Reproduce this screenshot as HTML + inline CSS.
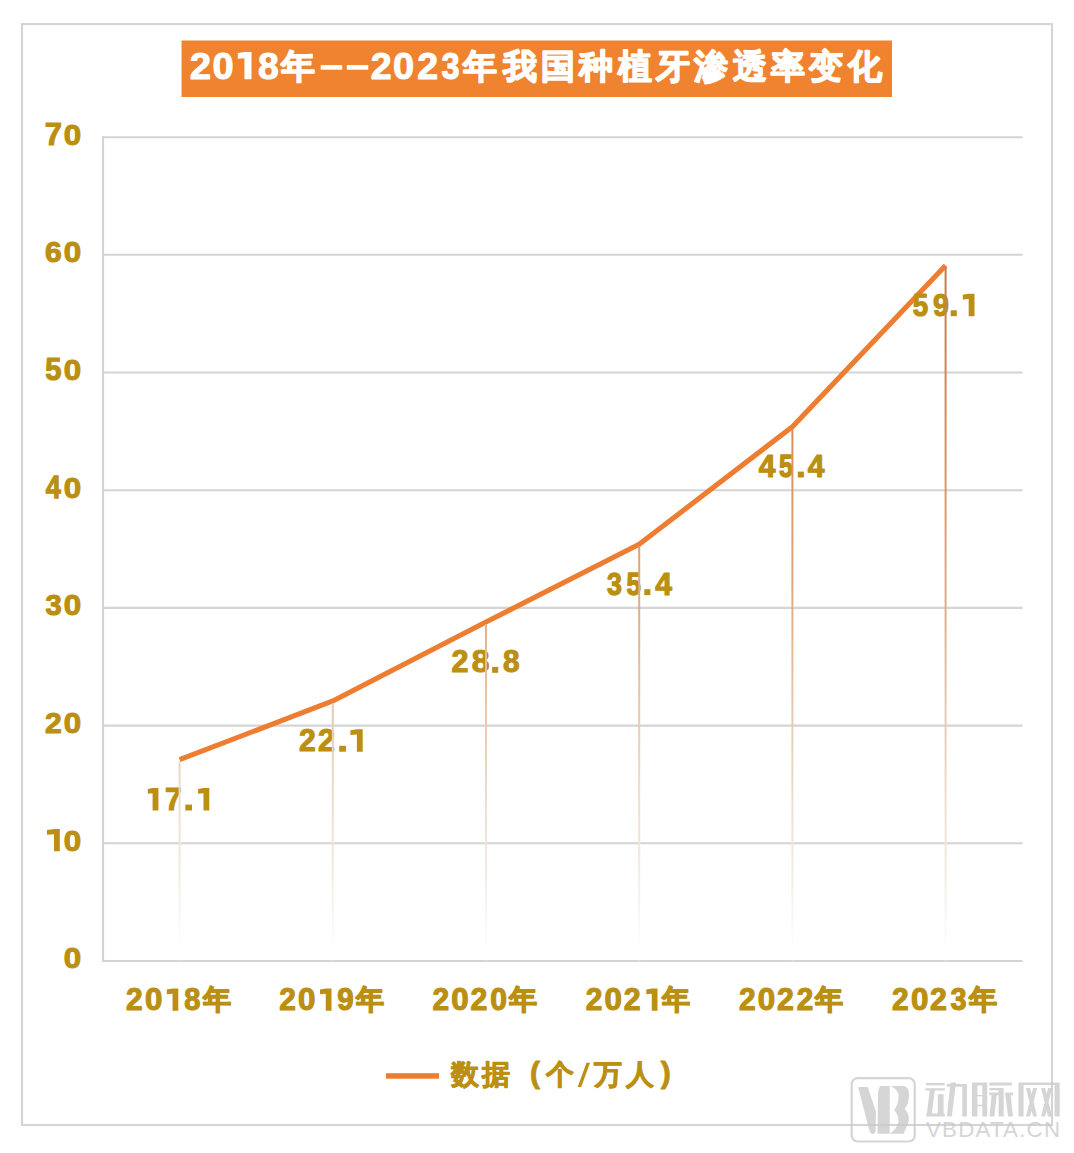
<!DOCTYPE html>
<html>
<head>
<meta charset="utf-8">
<style>
html,body{margin:0;padding:0;background:#fff;}
body{width:1074px;height:1153px;overflow:hidden;position:relative;}
svg{position:absolute;left:0;top:0;}
text{font-family:"Liberation Sans",sans-serif;}
</style>
</head>
<body>
<svg width="1074" height="1153" viewBox="0 0 1074 1153">
<defs>
<linearGradient id="dg" gradientUnits="userSpaceOnUse" x1="0" y1="262" x2="0" y2="950">
<stop offset="0" stop-color="#C47A42"/>
<stop offset="0.24" stop-color="#DA8C56"/>
<stop offset="0.5" stop-color="#E2AC84"/>
<stop offset="0.64" stop-color="#E8C6AA"/>
<stop offset="0.78" stop-color="#EDDDCE"/>
<stop offset="0.89" stop-color="#F2ECE4"/>
<stop offset="1" stop-color="#FFFFFF"/>
</linearGradient>
</defs>
<rect x="22" y="24.1" width="1030" height="1100.9" fill="none" stroke="#d4d4d4" stroke-width="2.1"/>
<g stroke="#d4d4d4" stroke-width="2.1">
<line x1="103" y1="137.2" x2="1022.5" y2="137.2"/>
<line x1="103" y1="254.8" x2="1022.5" y2="254.8"/>
<line x1="103" y1="372.5" x2="1022.5" y2="372.5"/>
<line x1="103" y1="490.2" x2="1022.5" y2="490.2"/>
<line x1="103" y1="607.9" x2="1022.5" y2="607.9"/>
<line x1="103" y1="725.6" x2="1022.5" y2="725.6"/>
<line x1="103" y1="843.3" x2="1022.5" y2="843.3"/>
<line x1="103" y1="961.0" x2="1022.5" y2="961.0"/>
<line x1="103.06" y1="136.15" x2="103.06" y2="961.95"/>
</g>
<rect x="181.5" y="40.5" width="710.5" height="56.5" fill="#F0832F"/>
<text transform="translate(189.77,78.70) scale(1.024,1)" x="0" y="0" font-size="37.52" fill="#ffffff" font-weight="700" stroke="#ffffff" stroke-width="0.98" stroke-linejoin="round">2</text>
<text transform="translate(212.39,78.70) scale(1.014,1)" x="0" y="0" font-size="37.52" fill="#ffffff" font-weight="700" stroke="#ffffff" stroke-width="0.99" stroke-linejoin="round">0</text>
<path d="M237.80,53.00 L244.43,52.00 L251.50,52.00 L251.50,79.20 L244.43,79.20 L244.43,58.25 L237.80,58.65 Z" fill="#ffffff"/>
<text transform="translate(257.91,78.70) scale(0.999,1)" x="0" y="0" font-size="37.52" fill="#ffffff" font-weight="700" stroke="#ffffff" stroke-width="1.00" stroke-linejoin="round">8</text>
<text transform="translate(370.70,78.70) scale(1.002,1)" x="0" y="0" font-size="37.52" fill="#ffffff" font-weight="700" stroke="#ffffff" stroke-width="1.00" stroke-linejoin="round">2</text>
<text transform="translate(392.89,78.70) scale(1.014,1)" x="0" y="0" font-size="37.52" fill="#ffffff" font-weight="700" stroke="#ffffff" stroke-width="0.99" stroke-linejoin="round">0</text>
<text transform="translate(417.30,78.70) scale(1.002,1)" x="0" y="0" font-size="37.52" fill="#ffffff" font-weight="700" stroke="#ffffff" stroke-width="1.00" stroke-linejoin="round">2</text>
<text transform="translate(441.55,78.70) scale(0.869,1)" x="0" y="0" font-size="37.52" fill="#ffffff" font-weight="700" stroke="#ffffff" stroke-width="1.15" stroke-linejoin="round">3</text>
<text x="297.80" y="77.60" font-size="33.8" text-anchor="middle" fill="#ffffff" font-weight="700" stroke="#ffffff" stroke-width="1.5" stroke-linejoin="round">年</text>
<rect x="320.7" y="65.1" width="21.5" height="4.6" fill="#ffffff"/>
<rect x="346.8" y="65.1" width="21.5" height="4.6" fill="#ffffff"/>
<text x="480.00" y="77.60" font-size="33.8" text-anchor="middle" fill="#ffffff" font-weight="700" stroke="#ffffff" stroke-width="1.5" stroke-linejoin="round">年</text>
<text x="502.50" y="77.60" font-size="33.8" text-anchor="start" fill="#ffffff" font-weight="700" textLength="379" lengthAdjust="spacing" stroke="#ffffff" stroke-width="1.5" stroke-linejoin="round">我国种植牙渗透率变化</text>
<text transform="translate(63.81,968.40) scale(1.037,1)" x="0" y="0" font-size="30.22" fill="#BA8F12" font-weight="700" stroke="#BA8F12" stroke-width="1.06" stroke-linejoin="round">0</text>
<path d="M47.00,830.06 L54.03,829.06 L59.80,829.06 L59.80,851.26 L54.03,851.26 L54.03,834.24 L47.00,834.64 Z" fill="#BA8F12"/>
<text transform="translate(63.81,850.71) scale(1.037,1)" x="0" y="0" font-size="30.22" fill="#BA8F12" font-weight="700" stroke="#BA8F12" stroke-width="1.06" stroke-linejoin="round">0</text>
<text transform="translate(45.01,733.03) scale(0.997,1)" x="0" y="0" font-size="30.22" fill="#BA8F12" font-weight="700" stroke="#BA8F12" stroke-width="1.10" stroke-linejoin="round">2</text>
<text transform="translate(63.81,733.03) scale(1.037,1)" x="0" y="0" font-size="30.22" fill="#BA8F12" font-weight="700" stroke="#BA8F12" stroke-width="1.06" stroke-linejoin="round">0</text>
<text transform="translate(45.38,615.34) scale(0.965,1)" x="0" y="0" font-size="30.22" fill="#BA8F12" font-weight="700" stroke="#BA8F12" stroke-width="1.14" stroke-linejoin="round">3</text>
<text transform="translate(63.81,615.34) scale(1.037,1)" x="0" y="0" font-size="30.22" fill="#BA8F12" font-weight="700" stroke="#BA8F12" stroke-width="1.06" stroke-linejoin="round">0</text>
<text transform="translate(45.64,497.66) scale(0.883,1)" x="0" y="0" font-size="30.67" fill="#BA8F12" font-weight="700" stroke="#BA8F12" stroke-width="1.25" stroke-linejoin="round">4</text>
<text transform="translate(63.81,497.66) scale(1.037,1)" x="0" y="0" font-size="30.22" fill="#BA8F12" font-weight="700" stroke="#BA8F12" stroke-width="1.06" stroke-linejoin="round">0</text>
<text transform="translate(45.15,379.97) scale(0.950,1)" x="0" y="0" font-size="30.67" fill="#BA8F12" font-weight="700" stroke="#BA8F12" stroke-width="1.16" stroke-linejoin="round">5</text>
<text transform="translate(63.81,379.97) scale(1.037,1)" x="0" y="0" font-size="30.22" fill="#BA8F12" font-weight="700" stroke="#BA8F12" stroke-width="1.06" stroke-linejoin="round">0</text>
<text transform="translate(44.95,262.29) scale(0.993,1)" x="0" y="0" font-size="30.22" fill="#BA8F12" font-weight="700" stroke="#BA8F12" stroke-width="1.11" stroke-linejoin="round">6</text>
<text transform="translate(63.81,262.29) scale(1.037,1)" x="0" y="0" font-size="30.22" fill="#BA8F12" font-weight="700" stroke="#BA8F12" stroke-width="1.06" stroke-linejoin="round">0</text>
<text transform="translate(44.72,144.60) scale(1.008,1)" x="0" y="0" font-size="30.67" fill="#BA8F12" font-weight="700" stroke="#BA8F12" stroke-width="1.09" stroke-linejoin="round">7</text>
<text transform="translate(63.81,144.60) scale(1.037,1)" x="0" y="0" font-size="30.22" fill="#BA8F12" font-weight="700" stroke="#BA8F12" stroke-width="1.06" stroke-linejoin="round">0</text>
<polyline points="179.6,759.7 332.8,700.9 486.0,622.0 639.2,544.3 792.4,426.7 945.6,265.4" fill="none" stroke="#ED7D31" stroke-width="5.1" stroke-linejoin="round"/>
<path d="M147.80,789.11 L152.58,788.11 L158.40,788.11 L158.40,810.51 L152.58,810.51 L152.58,793.32 L147.80,793.72 Z" fill="#BA8F12"/>
<text transform="translate(164.97,809.96) scale(0.964,1)" x="0" y="0" font-size="30.96" fill="#BA8F12" font-weight="700" stroke="#BA8F12" stroke-width="1.14" stroke-linejoin="round">7</text>
<rect x="185.3" y="804.6" width="6.7" height="5.9" fill="#BA8F12"/>
<path d="M198.10,789.11 L203.48,788.11 L209.30,788.11 L209.30,810.51 L203.48,810.51 L203.48,793.32 L198.10,793.72 Z" fill="#BA8F12"/>
<text transform="translate(299.11,751.11) scale(0.987,1)" x="0" y="0" font-size="30.51" fill="#BA8F12" font-weight="700" stroke="#BA8F12" stroke-width="1.11" stroke-linejoin="round">2</text>
<text transform="translate(318.00,751.11) scale(0.994,1)" x="0" y="0" font-size="30.51" fill="#BA8F12" font-weight="700" stroke="#BA8F12" stroke-width="1.11" stroke-linejoin="round">2</text>
<rect x="339.2" y="745.8" width="6.7" height="5.9" fill="#BA8F12"/>
<path d="M350.40,730.26 L356.88,729.26 L362.70,729.26 L362.70,751.66 L356.88,751.66 L356.88,734.48 L350.40,734.88 Z" fill="#BA8F12"/>
<text transform="translate(451.59,672.27) scale(1.001,1)" x="0" y="0" font-size="30.51" fill="#BA8F12" font-weight="700" stroke="#BA8F12" stroke-width="1.10" stroke-linejoin="round">2</text>
<text transform="translate(471.64,672.27) scale(1.043,1)" x="0" y="0" font-size="30.51" fill="#BA8F12" font-weight="700" stroke="#BA8F12" stroke-width="1.06" stroke-linejoin="round">8</text>
<rect x="492.1" y="666.9" width="6.1" height="5.9" fill="#BA8F12"/>
<text transform="translate(502.90,672.27) scale(0.976,1)" x="0" y="0" font-size="30.51" fill="#BA8F12" font-weight="700" stroke="#BA8F12" stroke-width="1.13" stroke-linejoin="round">8</text>
<text transform="translate(607.04,594.59) scale(0.877,1)" x="0" y="0" font-size="30.51" fill="#BA8F12" font-weight="700" stroke="#BA8F12" stroke-width="1.25" stroke-linejoin="round">3</text>
<text transform="translate(626.46,594.59) scale(0.831,1)" x="0" y="0" font-size="30.96" fill="#BA8F12" font-weight="700" stroke="#BA8F12" stroke-width="1.32" stroke-linejoin="round">5</text>
<rect x="644.3" y="589.2" width="6.1" height="5.9" fill="#BA8F12"/>
<text transform="translate(655.20,594.59) scale(0.971,1)" x="0" y="0" font-size="30.96" fill="#BA8F12" font-weight="700" stroke="#BA8F12" stroke-width="1.13" stroke-linejoin="round">4</text>
<text transform="translate(758.80,476.91) scale(0.971,1)" x="0" y="0" font-size="30.96" fill="#BA8F12" font-weight="700" stroke="#BA8F12" stroke-width="1.13" stroke-linejoin="round">4</text>
<text transform="translate(778.98,476.91) scale(0.805,1)" x="0" y="0" font-size="30.96" fill="#BA8F12" font-weight="700" stroke="#BA8F12" stroke-width="1.37" stroke-linejoin="round">5</text>
<rect x="797.8" y="471.6" width="6.1" height="5.9" fill="#BA8F12"/>
<text transform="translate(807.70,476.91) scale(0.971,1)" x="0" y="0" font-size="30.96" fill="#BA8F12" font-weight="700" stroke="#BA8F12" stroke-width="1.13" stroke-linejoin="round">4</text>
<text transform="translate(912.70,315.68) scale(0.896,1)" x="0" y="0" font-size="30.96" fill="#BA8F12" font-weight="700" stroke="#BA8F12" stroke-width="1.23" stroke-linejoin="round">5</text>
<text transform="translate(933.06,315.68) scale(0.941,1)" x="0" y="0" font-size="30.51" fill="#BA8F12" font-weight="700" stroke="#BA8F12" stroke-width="1.17" stroke-linejoin="round">9</text>
<rect x="950.7" y="310.3" width="6.1" height="5.9" fill="#BA8F12"/>
<path d="M962.80,294.83 L968.68,293.83 L974.50,293.83 L974.50,316.23 L968.68,316.23 L968.68,299.04 L962.80,299.44 Z" fill="#BA8F12"/>
<g stroke="url(#dg)" stroke-width="2">
<line x1="179.6" y1="761.7" x2="179.6" y2="960.1500000000001"/>
<line x1="332.8" y1="702.9" x2="332.8" y2="960.1500000000001"/>
<line x1="486.0" y1="624.0" x2="486.0" y2="960.1500000000001"/>
<line x1="639.2" y1="546.3" x2="639.2" y2="960.1500000000001"/>
<line x1="792.4" y1="428.7" x2="792.4" y2="960.1500000000001"/>
<line x1="945.6" y1="267.4" x2="945.6" y2="960.1500000000001"/>
</g>
<text transform="translate(126.11,1010.25) scale(0.980,1)" x="0" y="0" font-size="30.51" fill="#BA8F12" font-weight="700" stroke="#BA8F12" stroke-width="1.12" stroke-linejoin="round">2</text>
<text transform="translate(144.91,1010.25) scale(1.027,1)" x="0" y="0" font-size="30.51" fill="#BA8F12" font-weight="700" stroke="#BA8F12" stroke-width="1.07" stroke-linejoin="round">0</text>
<path d="M166.80,989.60 L172.55,988.60 L178.30,988.60 L178.30,1010.70 L172.55,1010.70 L172.55,993.75 L166.80,994.15 Z" fill="#BA8F12"/>
<text transform="translate(184.13,1010.25) scale(0.950,1)" x="0" y="0" font-size="30.51" fill="#BA8F12" font-weight="700" stroke="#BA8F12" stroke-width="1.16" stroke-linejoin="round">8</text>
<text x="216.60" y="1009.20" font-size="28.0" text-anchor="middle" fill="#BA8F12" font-weight="700" stroke="#BA8F12" stroke-width="1.4" stroke-linejoin="round">年</text>
<text transform="translate(279.31,1010.25) scale(0.980,1)" x="0" y="0" font-size="30.51" fill="#BA8F12" font-weight="700" stroke="#BA8F12" stroke-width="1.12" stroke-linejoin="round">2</text>
<text transform="translate(298.11,1010.25) scale(1.027,1)" x="0" y="0" font-size="30.51" fill="#BA8F12" font-weight="700" stroke="#BA8F12" stroke-width="1.07" stroke-linejoin="round">0</text>
<path d="M320.00,989.60 L325.75,988.60 L331.50,988.60 L331.50,1010.70 L325.75,1010.70 L325.75,993.75 L320.00,994.15 Z" fill="#BA8F12"/>
<text transform="translate(337.23,1010.25) scale(0.968,1)" x="0" y="0" font-size="30.51" fill="#BA8F12" font-weight="700" stroke="#BA8F12" stroke-width="1.14" stroke-linejoin="round">9</text>
<text x="369.80" y="1009.20" font-size="28.0" text-anchor="middle" fill="#BA8F12" font-weight="700" stroke="#BA8F12" stroke-width="1.4" stroke-linejoin="round">年</text>
<text transform="translate(432.51,1010.25) scale(0.980,1)" x="0" y="0" font-size="30.51" fill="#BA8F12" font-weight="700" stroke="#BA8F12" stroke-width="1.12" stroke-linejoin="round">2</text>
<text transform="translate(451.31,1010.25) scale(1.027,1)" x="0" y="0" font-size="30.51" fill="#BA8F12" font-weight="700" stroke="#BA8F12" stroke-width="1.07" stroke-linejoin="round">0</text>
<text transform="translate(470.50,1010.25) scale(0.994,1)" x="0" y="0" font-size="30.51" fill="#BA8F12" font-weight="700" stroke="#BA8F12" stroke-width="1.11" stroke-linejoin="round">2</text>
<text transform="translate(490.26,1010.25) scale(0.986,1)" x="0" y="0" font-size="30.51" fill="#BA8F12" font-weight="700" stroke="#BA8F12" stroke-width="1.12" stroke-linejoin="round">0</text>
<text x="523.00" y="1009.20" font-size="28.0" text-anchor="middle" fill="#BA8F12" font-weight="700" stroke="#BA8F12" stroke-width="1.4" stroke-linejoin="round">年</text>
<text transform="translate(585.71,1010.25) scale(0.980,1)" x="0" y="0" font-size="30.51" fill="#BA8F12" font-weight="700" stroke="#BA8F12" stroke-width="1.12" stroke-linejoin="round">2</text>
<text transform="translate(604.51,1010.25) scale(1.027,1)" x="0" y="0" font-size="30.51" fill="#BA8F12" font-weight="700" stroke="#BA8F12" stroke-width="1.07" stroke-linejoin="round">0</text>
<text transform="translate(623.70,1010.25) scale(0.994,1)" x="0" y="0" font-size="30.51" fill="#BA8F12" font-weight="700" stroke="#BA8F12" stroke-width="1.11" stroke-linejoin="round">2</text>
<path d="M646.30,989.60 L651.75,988.60 L657.50,988.60 L657.50,1010.70 L651.75,1010.70 L651.75,993.75 L646.30,994.15 Z" fill="#BA8F12"/>
<text x="676.20" y="1009.20" font-size="28.0" text-anchor="middle" fill="#BA8F12" font-weight="700" stroke="#BA8F12" stroke-width="1.4" stroke-linejoin="round">年</text>
<text transform="translate(738.91,1010.25) scale(0.980,1)" x="0" y="0" font-size="30.51" fill="#BA8F12" font-weight="700" stroke="#BA8F12" stroke-width="1.12" stroke-linejoin="round">2</text>
<text transform="translate(757.71,1010.25) scale(1.027,1)" x="0" y="0" font-size="30.51" fill="#BA8F12" font-weight="700" stroke="#BA8F12" stroke-width="1.07" stroke-linejoin="round">0</text>
<text transform="translate(776.90,1010.25) scale(0.994,1)" x="0" y="0" font-size="30.51" fill="#BA8F12" font-weight="700" stroke="#BA8F12" stroke-width="1.11" stroke-linejoin="round">2</text>
<text transform="translate(796.82,1010.25) scale(0.974,1)" x="0" y="0" font-size="30.51" fill="#BA8F12" font-weight="700" stroke="#BA8F12" stroke-width="1.13" stroke-linejoin="round">2</text>
<text x="829.40" y="1009.20" font-size="28.0" text-anchor="middle" fill="#BA8F12" font-weight="700" stroke="#BA8F12" stroke-width="1.4" stroke-linejoin="round">年</text>
<text transform="translate(892.11,1010.25) scale(0.980,1)" x="0" y="0" font-size="30.51" fill="#BA8F12" font-weight="700" stroke="#BA8F12" stroke-width="1.12" stroke-linejoin="round">2</text>
<text transform="translate(910.91,1010.25) scale(1.027,1)" x="0" y="0" font-size="30.51" fill="#BA8F12" font-weight="700" stroke="#BA8F12" stroke-width="1.07" stroke-linejoin="round">0</text>
<text transform="translate(930.10,1010.25) scale(0.994,1)" x="0" y="0" font-size="30.51" fill="#BA8F12" font-weight="700" stroke="#BA8F12" stroke-width="1.11" stroke-linejoin="round">2</text>
<text transform="translate(950.39,1010.25) scale(0.943,1)" x="0" y="0" font-size="30.51" fill="#BA8F12" font-weight="700" stroke="#BA8F12" stroke-width="1.17" stroke-linejoin="round">3</text>
<text x="982.60" y="1009.20" font-size="28.0" text-anchor="middle" fill="#BA8F12" font-weight="700" stroke="#BA8F12" stroke-width="1.4" stroke-linejoin="round">年</text>
<rect x="386" y="1073.2" width="53" height="5.5" fill="#ED7D31"/>
<text x="465.20" y="1084.00" font-size="28.2" text-anchor="middle" fill="#BA8F12" font-weight="700" stroke="#BA8F12" stroke-width="0.9" stroke-linejoin="round">数</text>
<text x="495.70" y="1084.00" font-size="28.2" text-anchor="middle" fill="#BA8F12" font-weight="700" stroke="#BA8F12" stroke-width="0.9" stroke-linejoin="round">据</text>
<text x="559.50" y="1084.00" font-size="28.2" text-anchor="middle" fill="#BA8F12" font-weight="700" stroke="#BA8F12" stroke-width="0.9" stroke-linejoin="round">个</text>
<text x="607.60" y="1084.00" font-size="28.2" text-anchor="middle" fill="#BA8F12" font-weight="700" stroke="#BA8F12" stroke-width="0.9" stroke-linejoin="round">万</text>
<text x="639.60" y="1084.00" font-size="28.2" text-anchor="middle" fill="#BA8F12" font-weight="700" stroke="#BA8F12" stroke-width="0.9" stroke-linejoin="round">人</text>
<text x="535.00" y="1083.30" font-size="30" text-anchor="middle" fill="#BA8F12" font-weight="700" stroke="#BA8F12" stroke-width="0.9" stroke-linejoin="round">(</text>
<text x="665.80" y="1083.30" font-size="30" text-anchor="middle" fill="#BA8F12" font-weight="700" stroke="#BA8F12" stroke-width="0.9" stroke-linejoin="round">)</text>
<polygon points="577.7,1087 581.2,1087 590,1062.8 586.5,1062.8" fill="#BA8F12"/>
<g opacity="0.75">
<rect x="851.7" y="1078.2" width="63" height="63.3" rx="6" fill="none" stroke="#c8c8c8" stroke-width="2.2"/>
<path d="M858,1087 L867.7,1087 L875.9,1111.5 L875.6,1131 Q875,1134.5 872,1134 Q870.5,1133.5 869.5,1131 Z" fill="#c8c8c8"/>
<path d="M880.5,1086 L889.7,1086 L889.7,1133.7 L877.5,1133.7 L878.1,1093 Q878.5,1088 880.5,1086 Z" fill="#c8c8c8"/>
<path d="M890.4,1086 L904,1086 Q909,1087 909,1095 Q909,1104 904.6,1108.7 Q909,1113 909,1120.6 L903.8,1133.7 L889.7,1133.7 Q898,1128 898.6,1121 Q898,1114 894.2,1110 Q898.5,1104 898.6,1096 Q898,1089 890.4,1086 Z" fill="#c8c8c8"/>
<path d="M926,1082.9 H944.8 V1085.2 H926 Z M925.5,1088.2 H944.8 V1090.6 H925.5 Z M929.7,1090.6 L934.8,1090.6 L931.8,1113.4 L926.9,1113.4 Z M937.8,1094.3 H943.6 V1113.4 H937.8 Z M926.2,1113.4 H944.8 V1116.6 H926.2 Z M946.7,1084 H967 V1086.8 H946.7 Z M950.4,1082.5 L956,1082.5 L951.8,1116.6 L946.9,1116.6 Z M962.3,1084 H966.9 V1116.6 H962.3 Z M972,1082.4 H987.2 V1085.4 H972 Z M972,1082.4 H977.4 V1116.6 H972 Z M982.3,1082.4 H987.2 V1116.6 H982.3 Z M977.4,1094.9 H982.3 V1096.3 H977.4 Z M977.4,1104.8 H982.3 V1106.2 H977.4 Z M989.3,1082.4 H1011.9 V1085.4 H989.3 Z M989.3,1088 H1003.7 V1090.2 H989.3 Z M989.3,1092.4 H998.6 V1095.2 H989.3 Z M1005.1,1092.4 H1013 V1095.2 H1005.1 Z M991.6,1095.2 L996.7,1095.2 L994.4,1116.6 L989.5,1116.6 Z M998.6,1090 H1003.7 V1116.6 H998.6 Z M1005.3,1095.2 L1010.7,1095.2 L1013,1116.6 L1008.1,1116.6 Z M1018.5,1082.4 H1059.7 V1085 H1018.5 Z M1018.5,1082.4 H1023.6 V1116.6 H1018.5 Z M1054.6,1082.4 H1059.7 V1116.6 H1054.6 Z M1026,1088 L1030,1088 L1037.1,1116.6 L1033.1,1116.6 Z M1033.1,1088 L1037.1,1088 L1030,1116.6 L1026,1116.6 Z M1041.1,1088 L1045.1,1088 L1052,1116.6 L1048,1116.6 Z M1048,1088 L1052,1088 L1045.1,1116.6 L1041.1,1116.6 Z" fill="#c8c8c8"/>
<text x="926.00" y="1137.20" font-size="22.3" text-anchor="start" fill="#c8c8c8" font-weight="400" textLength="134" lengthAdjust="spacing">VBDATA.CN</text>
</g>
</svg>
</body>
</html>
